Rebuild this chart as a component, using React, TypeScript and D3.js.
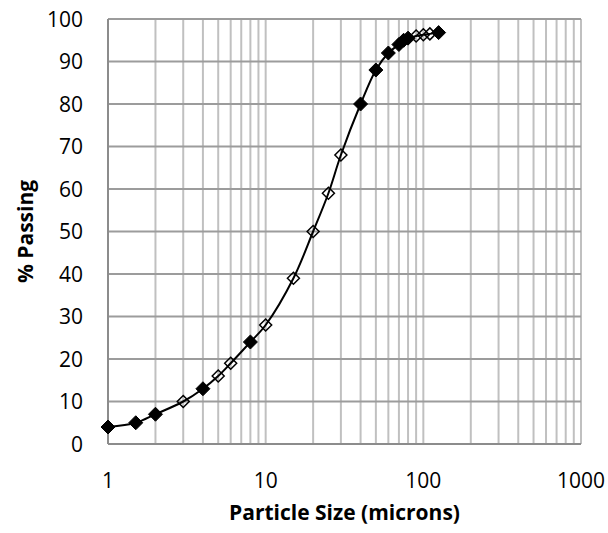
import React from "react";
import * as d3 from "d3";

// Filled-diamond series
const filledSize = [1, 1.5, 2, 4, 8, 40, 50, 60, 70, 75, 80, 125];
const filledPass = [4, 5, 7, 13, 24, 80, 88, 92, 94, 95, 95.5, 96.8];
// Open-diamond series
const openSize = [3, 5, 6, 10, 15, 20, 25, 30, 90, 100, 110];
const openPass = [10, 16, 19, 28, 39, 50, 59, 68, 96, 96.3, 96.5];

const yTicks = [0, 10, 20, 30, 40, 50, 60, 70, 80, 90, 100];
const xTicks = [1, 10, 100, 1000];
const xTitle = "Particle Size (microns)";
const yTitle = "% Passing";

const W = 608, H = 533;
const M = { left: 108, right: 581, top: 19, bottom: 444 };
const FONT = "'Open Sans', sans-serif";

function diamond(cx: number, cy: number, r: number) {
  return `M${cx},${cy - r}L${cx + r},${cy}L${cx},${cy + r}L${cx - r},${cy}Z`;
}

export default function App() {
  const x = d3.scaleLog().domain([1, 1000]).range([M.left, M.right]);
  const y = d3.scaleLinear().domain([0, 100]).range([M.bottom, M.top]);

  const minor: number[] = [];
  for (let dec = 1; dec < 1000; dec *= 10) {
    for (let k = 2; k <= 9; k++) minor.push(dec * k);
  }
  const verticals = [...minor, 10, 100, 1000];

  const all = [
    ...filledSize.map((s, i) => [s, filledPass[i]] as [number, number]),
    ...openSize.map((s, i) => [s, openPass[i]] as [number, number]),
  ].sort((a, b) => a[0] - b[0]);

  const line = d3
    .line<[number, number]>()
    .x((d) => x(d[0]))
    .y((d) => y(d[1]))
    .curve(d3.curveCatmullRom.alpha(0.5));

  return (
    <svg width={W} height={H} style={{ position: "absolute", left: 0, top: 0, background: "#fff" }}>
      {verticals.map((v) => (
        <line key={"v" + v} x1={x(v)} x2={x(v)} y1={M.top} y2={M.bottom} stroke="#c0c0c0" strokeWidth={2} />
      ))}
      {yTicks.map((t) => (
        <line key={"h" + t} x1={M.left} x2={M.right} y1={y(t)} y2={y(t)} stroke="#9c9c9c" strokeWidth={2} />
      ))}
      <line x1={M.left} x2={M.left} y1={M.top} y2={M.bottom} stroke="#8c8c8c" strokeWidth={2} />
      <line x1={M.left} x2={M.right} y1={M.bottom} y2={M.bottom} stroke="#8c8c8c" strokeWidth={2} />

      <path d={line(all) || ""} fill="none" stroke="#000" strokeWidth={2} />
      {openSize.map((s, i) => (
        <path key={"o" + i} d={diamond(x(s), y(openPass[i]), 6)} fill="none" stroke="#000" strokeWidth={1.5} />
      ))}
      {filledSize.map((s, i) => (
        <path key={"f" + i} d={diamond(x(s), y(filledPass[i]), 7)} fill="#000" stroke="#000" strokeWidth={1} />
      ))}

      {yTicks.map((t) => (
        <text key={"yl" + t} x={83} y={y(t)} dy="0.36em" textAnchor="end" fontFamily={FONT} fontSize={21} fill="#000">
          {t}
        </text>
      ))}
      {xTicks.map((t) => (
        <text key={"xl" + t} x={x(t)} y={488} textAnchor="middle" fontFamily={FONT} fontSize={21} fill="#000">
          {t}
        </text>
      ))}
      <text x={(M.left + M.right) / 2} y={520} textAnchor="middle" fontFamily={FONT} fontSize={21} fontWeight="bold">
        {xTitle}
      </text>
      <text
        transform={`translate(33,${(M.top + M.bottom) / 2}) rotate(-90)`}
        textAnchor="middle"
        fontFamily={FONT}
        fontSize={21}
        fontWeight="bold"
      >
        {yTitle}
      </text>
    </svg>
  );
}
